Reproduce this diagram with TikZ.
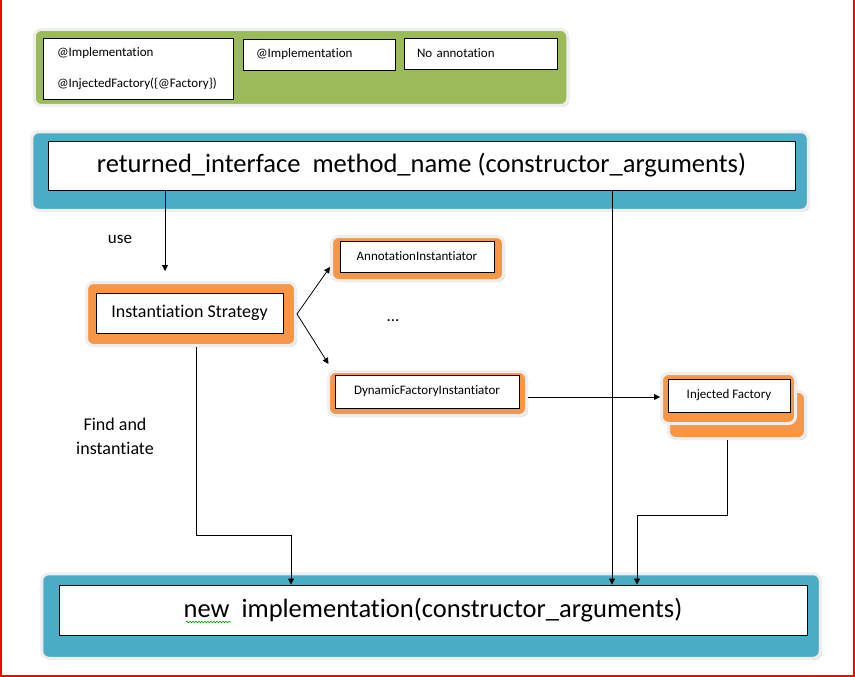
\documentclass[tikz,border=0pt]{standalone}
\usepackage{fontspec}
\setmainfont{Carlito}[Ligatures=NoCommon]
\usetikzlibrary{arrows.meta,shadows,decorations.pathmorphing}
\definecolor{pgreen}{HTML}{9BBB59}
\definecolor{pblue}{HTML}{4BACC6}
\definecolor{porange}{HTML}{F79646}
\definecolor{prim}{HTML}{EEEEEE}

\begin{document}
\begin{tikzpicture}[x=1pt,y=-1pt,>={Triangle[length=6pt,width=6pt]},
    panel/.style={draw=prim,line width=3pt,rounded corners=7pt,inner sep=0pt,
      drop shadow={shadow xshift=1.5pt,shadow yshift=-1.5pt,fill=gray!70}},
    inbox/.style={draw,fill=white,line width=0.8pt,inner sep=0pt},
    small/.style={font=\fontsize{13}{15}\selectfont},
    big/.style={font=\fontsize{26.5}{30}\selectfont},
    line/.style={line width=0.8pt}]
  \useasboundingbox (0,0) rectangle (855,677);
  \draw[red,line width=2pt] (1,0) -- (1,676) -- (854,676) -- (854,0);
  % annotations
  \node[panel,fill=pgreen,minimum width=533.5,minimum height=76] (ann) at (301,67.5) {};
  \node[inbox,text width=162pt,inner xsep=14pt,minimum height=61,align=left,
    font=\fontsize{13}{31}\selectfont] (b1) at (138,68.5)
    {@Implementation\\@InjectedFactory(\{@Factory\})};
  \node[inbox,small,text width=126pt,inner xsep=13pt,minimum height=31,align=left] (b2)
    at (319,54.5) {@Implementation};
  \node[inbox,small,text width=127pt,inner xsep=13pt,minimum height=31,align=left] (b3)
    at (480.5,53.5) {No annotation};
  % method
  \node[panel,fill=pblue,minimum width=776.5,minimum height=78.5] (top) at (420,171) {};
  \node[inbox,big,minimum width=747,minimum height=49] (topin) at (421.5,165.5)
    {returned\_interface\ \ method\_name (constructor\_arguments)};
  % strategies
  \node[panel,fill=porange,minimum width=209,minimum height=63] (is) at (191,314) {};
  \node[inbox,font=\fontsize{18}{21}\selectfont,minimum width=187,minimum height=40]
    (isin) at (189.5,313) {Instantiation Strategy};
  \node[panel,fill=porange,minimum width=172,minimum height=44] (annot) at (417.5,258.5) {};
  \node[inbox,small,minimum width=154,minimum height=31] (annotin) at (417,256.5)
    {AnnotationInstantiator};
  \node[panel,fill=porange,minimum width=198,minimum height=44] (dyn) at (427.5,393.5) {};
  \node[inbox,small,minimum width=184,minimum height=33] (dynin) at (427,391.5)
    {DynamicFactoryInstantiator};
  \node[font=\fontsize{17}{20}\selectfont] (dots) at (393,321) {...};
  \node[panel,fill=porange,minimum width=137,minimum height=47] (injback) at (737,415) {};
  \node[panel,fill=porange,minimum width=134,minimum height=50] (inj) at (728.5,398.5) {};
  \node[inbox,small,minimum width=122,minimum height=33] (injin) at (729,395.5)
    {Injected Factory};
  % result
  \node[panel,fill=pblue,minimum width=778.5,minimum height=84.5] (bot) at (431,616) {};
  \node[inbox,big,minimum width=748,minimum height=50] (botin) at (433,610)
    {new\ \ implementation(constructor\_arguments)};
  \draw[green!60!black,line width=0.6pt,decorate,
    decoration={snake,amplitude=0.8pt,segment length=3pt}] (186,622) -- (231,622);
  \node[font=\fontsize{17}{20}\selectfont] (use) at (120,239) {use};
  \node[font=\fontsize{18}{24}\selectfont,align=center] (find) at (115,436)
    {Find and\\instantiate};
  % connectors
  \coordinate (k0) at (165,271);
  \coordinate (k1) at (291,535);
  \coordinate (k2) at (612,0);
  \coordinate (k3) at (637,515);
  \draw[->,line] (topin.south -| k0) -- (k0);
  \draw[->,line] (is.east) -- ([yshift=-8.5pt]annot.west);
  \draw[->,line] (is.east) -- ([shift={(1.5pt,6pt)}]dyn.north west);
  \draw[->,line] ([yshift=-3.5pt]dyn.east) -- ([yshift=-3.5pt]dyn.east -| inj.west);
  \draw[->,line] ([xshift=5pt]is.south) |- (k1) -- (k1 |- botin.north);
  \draw[->,line] (topin.south -| k2) -- (botin.north -| k2);
  \draw[->,line] ([xshift=-10pt]injback.south) |- (k3) -- (k3 |- botin.north);
\end{tikzpicture}
\end{document}
